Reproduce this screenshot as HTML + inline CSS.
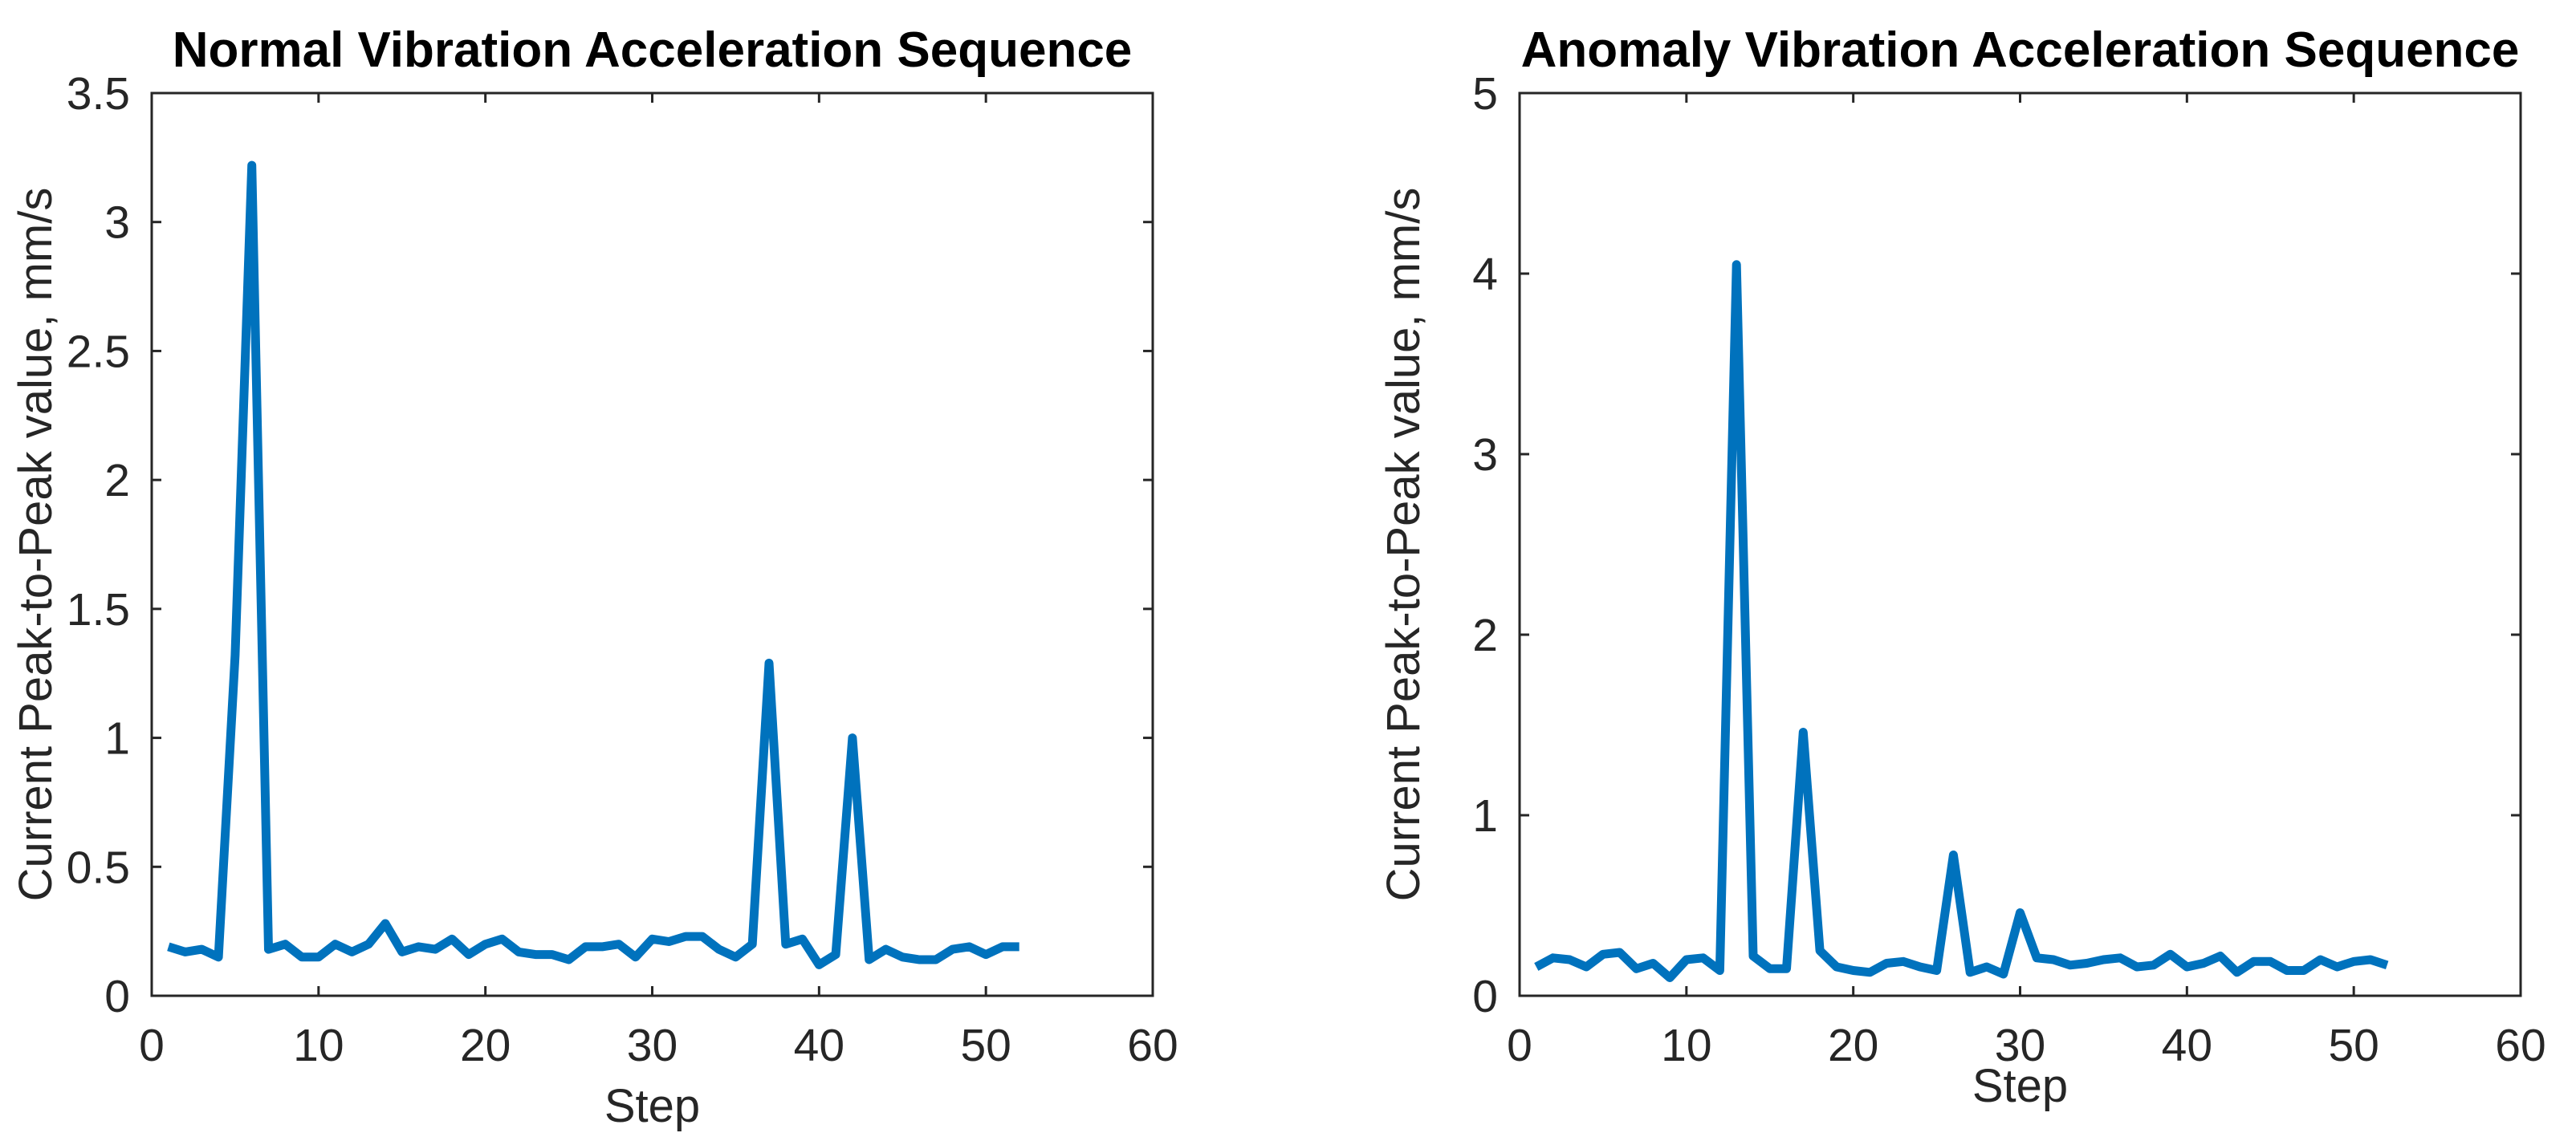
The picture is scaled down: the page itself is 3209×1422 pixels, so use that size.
<!DOCTYPE html>
<html><head><meta charset="utf-8"><style>
html,body{margin:0;padding:0;background:#fff;}
svg{display:block;font-family:"Liberation Sans",Arial,sans-serif;}
</style></head><body>
<svg id="fig" width="3209" height="1422" viewBox="0 0 3209 1422" xmlns="http://www.w3.org/2000/svg"></svg>
<script>
const steps = Array.from({length:52},(_,i)=>i+1);
const normalValues = [0.19,0.17,0.18,0.15,1.32,3.22,0.18,0.2,0.15,0.15,0.2,0.17,0.2,0.28,0.17,0.19,0.18,0.22,0.16,0.2,0.22,0.17,0.16,0.16,0.14,0.19,0.19,0.2,0.15,0.22,0.21,0.23,0.23,0.18,0.15,0.2,1.29,0.2,0.22,0.12,0.16,1.0,0.14,0.18,0.15,0.14,0.14,0.18,0.19,0.16,0.19,0.19];
const anomalyValues = [0.16,0.21,0.2,0.16,0.23,0.24,0.15,0.18,0.1,0.2,0.21,0.14,4.05,0.22,0.15,0.15,1.46,0.25,0.16,0.14,0.13,0.18,0.19,0.16,0.14,0.78,0.13,0.16,0.12,0.46,0.21,0.2,0.17,0.18,0.2,0.21,0.16,0.17,0.23,0.16,0.18,0.22,0.13,0.19,0.19,0.14,0.14,0.2,0.16,0.19,0.2,0.17];
const xTicks = [0,10,20,30,40,50,60];
const normalYTicks = [0,0.5,1,1.5,2,2.5,3,3.5];
const anomalyYTicks = [0,1,2,3,4,5];
const titles = ["Normal Vibration Acceleration Sequence","Anomaly Vibration Acceleration Sequence"];

const NS="http://www.w3.org/2000/svg";
const svg=document.getElementById('fig');
function mk(tag,attrs,parent){const e=document.createElementNS(NS,tag);for(const k in attrs)e.setAttribute(k,attrs[k]);(parent||svg).appendChild(e);return e;}

function panel(idx,L,values,yTicks,yMax,stepY){
  const T=116,B=1241,W=1247,R=L+W;
  const sx=v=>L+(v-0)/60*W;
  const sy=v=>B-(v/yMax)*(B-T);
  const g=mk('g',{});
  
  
  const box=mk('rect',{x:L,y:T,width:W,height:B-T,fill:'#fff',stroke:'#262626','stroke-width':3},g);
  
  
  xTicks.forEach(t=>{
    const x=sx(t);
    mk('line',{x1:x,y1:B,x2:x,y2:B-12,stroke:'#262626','stroke-width':3},g);
    mk('line',{x1:x,y1:T,x2:x,y2:T+12,stroke:'#262626','stroke-width':3},g);
    const tx=mk('text',{x:x,y:1322,'font-size':57,'text-anchor':'middle',fill:'#262626'},g);
    tx.textContent=t;
    
    
  });
  yTicks.forEach(t=>{
    const y=sy(t);
    mk('line',{x1:L,y1:y,x2:L+12,y2:y,stroke:'#262626','stroke-width':3},g);
    mk('line',{x1:R,y1:y,x2:R-12,y2:y,stroke:'#262626','stroke-width':3},g);
    const ty=mk('text',{x:L-27,y:y+20,'font-size':57,'text-anchor':'end',fill:'#262626'},g);
    ty.textContent=t;
    
    
  });
  const pts=steps.map((s,i)=>sx(s).toFixed(1)+','+sy(values[i]).toFixed(1)).join(' ');
  const line=mk('polyline',{points:pts,fill:'none',stroke:'#0072BD','stroke-width':11,'stroke-linejoin':'round'},g);
  
  
  const cx=(L+R)/2;
  const ti=mk('text',{x:cx,y:83,'font-size':62,'font-weight':'bold','text-anchor':'middle',fill:'#000'},g);
  ti.textContent=titles[idx];
  
  
  const xl=mk('text',{x:cx,y:stepY,'font-size':58,'text-anchor':'middle',fill:'#262626'},g);
  xl.textContent='Step';
  
  
  const yx=L-125, ycy=(T+B)/2;
  const yl=mk('text',{x:yx,y:ycy,'font-size':58,'text-anchor':'middle',fill:'#262626',transform:`rotate(-90 ${yx} ${ycy})`},g);
  yl.textContent='Current Peak-to-Peak value, mm/s';
  
  
}
panel(0,189,normalValues,normalYTicks,3.5,1398);
panel(1,1893,anomalyValues,anomalyYTicks,5,1373);
</script>
</body></html>
